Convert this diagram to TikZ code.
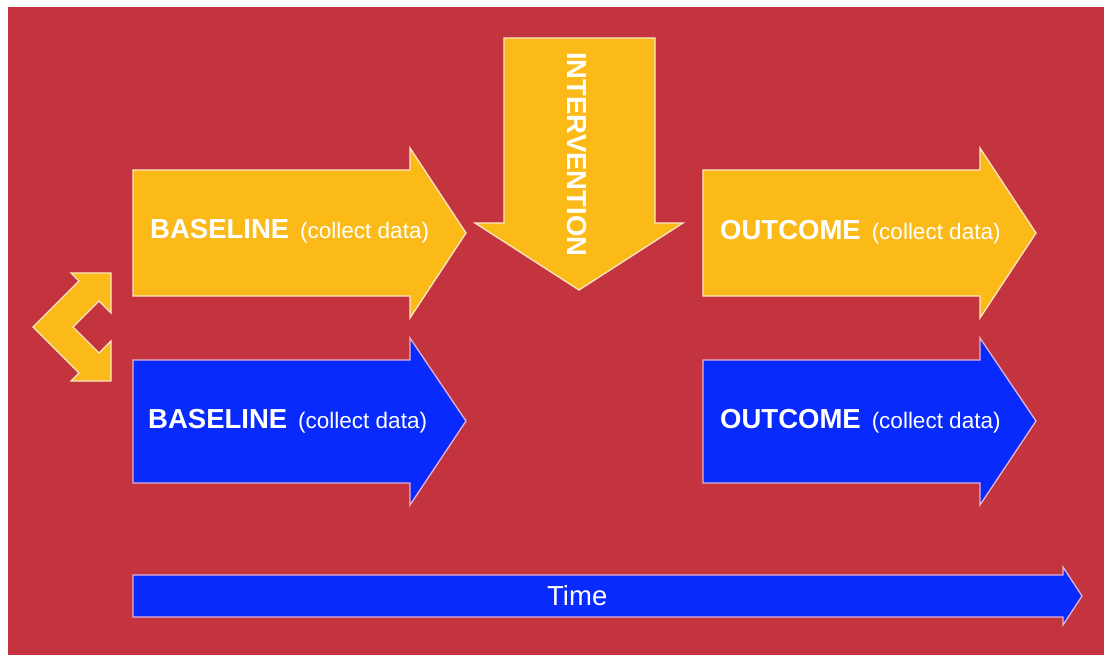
\documentclass[tikz,border=0pt]{standalone}
\usepackage{fontspec}
\setmainfont{Liberation Sans}

\definecolor{pozadi}{RGB}{196,52,63}
\definecolor{zluta}{RGB}{251,186,23}
\definecolor{zlutaokraj}{RGB}{250,232,196}
\definecolor{modra}{RGB}{8,42,252}
\definecolor{modraokraj}{RGB}{226,178,212}

\begin{document}
\begin{tikzpicture}[x=1pt, y=-1pt,
        zlutasipka/.style={fill=zluta, draw=zlutaokraj, line width=1.3pt},
        modrasipka/.style={fill=modra, draw=modraokraj, line width=1.3pt},
        popis/.style={text=white, inner sep=0pt, font=\fontsize{27.5}{30}\selectfont}]

        % plocha
        \fill[white] (0,0) rectangle (1104,655);
        \useasboundingbox (0,0) rectangle (1104,655);
        \fill[pozadi] (8,7) rectangle (1104,655);

        % dvojitá šipka vlevo
        \draw[zlutasipka, line join=miter]
        (33,327) -- (79,281) -- (71,273) -- (111,273) -- (111,313)
        -- (99,301) -- (73,327) -- (99,353) -- (111,341) -- (111,381)
        -- (71,381) -- (79,373) -- cycle;

        % výchozí stav
        \draw[zlutasipka] (133,170) -- (410,170) -- (410,148) -- (466,233)
        -- (410,318) -- (410,296) -- (133,296) -- cycle;
        \draw[modrasipka] (133,360) -- (410,360) -- (410,338) -- (466,421)
        -- (410,505) -- (410,483) -- (133,483) -- cycle;

        \node[popis, anchor=base west] (vychozi1) at (150,239)
        {\bfseries BASELINE\hspace{11pt}{\fontsize{22.5}{24}\selectfont\mdseries(collect data)}};
        \node[popis, anchor=base west] (vychozi2) at (148,428)
        {\bfseries BASELINE\hspace{11pt}{\fontsize{22.5}{24}\selectfont\mdseries(collect data)}};

        % zásah
        \draw[zlutasipka] (504,38) -- (655,38) -- (655,223) -- (683,223)
        -- (579,290) -- (475,223) -- (504,223) -- cycle;
        \node[popis, rotate=-90, anchor=base west] (zasah) at (567,52)
        {\bfseries INTERVENTION};

        % výsledek
        \draw[zlutasipka] (703,170) -- (980,170) -- (980,148) -- (1036,233)
        -- (980,318) -- (980,296) -- (703,296) -- cycle;
        \draw[modrasipka] (703,360) -- (980,360) -- (980,338) -- (1036,421)
        -- (980,505) -- (980,483) -- (703,483) -- cycle;

        \node[popis, anchor=base west] (vysledek1) at (720,240)
        {\bfseries OUTCOME\hspace{11pt}{\fontsize{22.5}{24}\selectfont\mdseries(collect data)}};
        \node[popis, anchor=base west] (vysledek2) at (720,428)
        {\bfseries OUTCOME\hspace{11pt}{\fontsize{22.5}{24}\selectfont\mdseries(collect data)}};

        % časová osa
        \draw[modrasipka] (133,575) -- (1063,575) -- (1063,567) -- (1082,596)
        -- (1063,625) -- (1063,617) -- (133,617) -- cycle;
        \node[popis, anchor=base west] (cas) at (547,605) {Time};

    \end{tikzpicture}
\end{document}
